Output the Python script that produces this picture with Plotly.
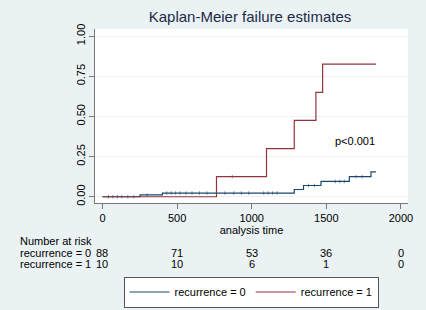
import numpy as np
import plotly.graph_objects as go

# Data
t0 = [0, 252, 402, 1285, 1347, 1464, 1654, 1799, 1832]
f0 = [0.0, 0.011, 0.023, 0.045, 0.070, 0.095, 0.125, 0.155, 0.155]
t1 = [0, 764, 1099, 1285, 1430, 1475, 1832]
f1 = [0.0, 0.125, 0.30, 0.475, 0.65, 0.825, 0.825]
cens0 = [40, 70, 100, 130, 170, 210, 300, 430, 460, 490, 520, 560, 600, 650, 700, 820, 880, 930, 980,
         1080, 1110, 1140, 1170, 1380, 1420, 1560, 1590, 1620, 1700, 1740]
cens1 = [870]
xticks = [0, 500, 1000, 1500, 2000]
yticks = [0, 0.25, 0.5, 0.75, 1.0]
risk0 = [88, 71, 53, 36, 0]
risk1 = [10, 10, 6, 1, 0]
names = ["recurrence = 0", "recurrence = 1"]

BLUE = "#1A476F"
RED = "#90353B"
BG = "#EAF2F3"
FONT = "Liberation Sans, Arial, sans-serif"

W, H = 426, 310
PL, PR, PT, PB = 95, 408, 29, 203  # plot area in pixels


def px_x(px):
    return (px - PL) / (PR - PL)


def px_y(py):
    return (PB - py) / (PB - PT)


def step_at(ts, fs, x):
    i = np.searchsorted(np.array(ts), x, side="right") - 1
    return fs[max(i, 0)]


fig = go.Figure()
fig.add_trace(go.Scatter(x=t0, y=f0, mode="lines", line=dict(color=BLUE, width=1.2, shape="hv"),
                         name=names[0]))
fig.add_trace(go.Scatter(x=t1, y=f1, mode="lines", line=dict(color=RED, width=1.2, shape="hv"),
                         name=names[1]))
fig.add_trace(go.Scatter(x=cens0, y=[step_at(t0, f0, c) for c in cens0], mode="markers",
                         marker=dict(symbol="line-ns", size=2.5, line=dict(color=BLUE, width=0.6)),
                         showlegend=False, hoverinfo="skip"))
fig.add_trace(go.Scatter(x=cens1, y=[step_at(t1, f1, c) for c in cens1], mode="markers",
                         marker=dict(symbol="line-ns", size=2.5, line=dict(color=RED, width=0.6)),
                         showlegend=False, hoverinfo="skip"))

fig.add_annotation(x=1692, y=0.345, xref="x", yref="y", text="p<0.001", showarrow=False,
                   font=dict(size=11, color="black", family=FONT))

# risk table
labels = [("Number at risk", 240.5), (names[0], 252.5), (names[1], 264)]
for txt, yy in labels:
    fig.add_annotation(x=px_x(18), y=px_y(yy), xref="paper", yref="paper",
                       text=txt, showarrow=False, xanchor="left", yanchor="middle",
                       font=dict(size=11, color="black", family=FONT))
for xv, r0, r1 in zip(xticks, risk0, risk1):
    for r, yy in ((r0, 252.5), (r1, 264)):
        fig.add_annotation(x=xv, y=px_y(yy), xref="x", yref="paper", text=str(r),
                           showarrow=False, xanchor="center", yanchor="middle",
                           font=dict(size=11, color="black", family=FONT))

fig.update_layout(
    width=W, height=H,
    paper_bgcolor=BG, plot_bgcolor="white",
    margin=dict(l=PL, r=W - PR, t=PT, b=H - PB, autoexpand=False),
    font=dict(family=FONT, size=11, color="black"),
    title=dict(text="Kaplan-Meier failure estimates", x=250 / W, xanchor="center",
               y=1 - 17 / H, yanchor="middle", font=dict(size=15, color="#1E2A4A", family=FONT)),
    showlegend=True,
    legend=dict(orientation="h", x=px_x(251), xanchor="center", y=px_y(276.5), yanchor="top",
                bgcolor="white", bordercolor="#555555", borderwidth=1,
                font=dict(size=11, family=FONT), itemwidth=40, tracegroupgap=0),
)
fig.update_xaxes(range=[-50, 2047], tickvals=xticks, ticktext=[str(v) for v in xticks],
                 showgrid=False, zeroline=False, showline=True, linecolor="#777777", linewidth=1,
                 ticks="outside", ticklen=5, tickcolor="#777777",
                 title=dict(text="analysis time", standoff=2, font=dict(size=11)))
fig.update_yaxes(range=[-0.039, 1.044], tickvals=yticks, ticktext=["0.00", "0.25", "0.50", "0.75", "1.00"],
                 tickangle=-90, showgrid=True, gridcolor="#EEF2F2", gridwidth=1, zeroline=False,
                 showline=True, linecolor="#777777", linewidth=1,
                 ticks="outside", ticklen=5, tickcolor="#777777")

fig.write_html("out.html", config={"displayModeBar": False},
               post_script="document.body.style.margin='0';document.body.style.background='%s';" % BG)
